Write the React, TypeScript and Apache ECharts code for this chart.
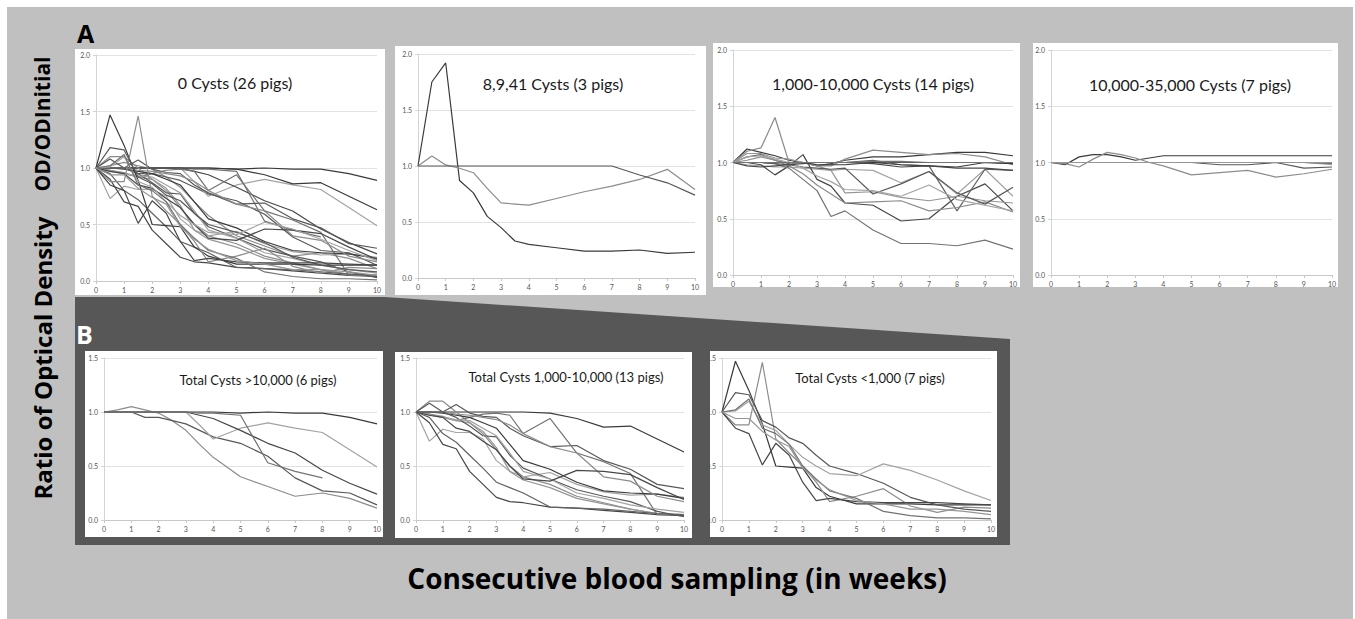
import React, { useEffect, useRef } from "react";
import * as echarts from "echarts";

// Sampling times (weeks)
const weeks = [0, 0.5, 1, 1.5, 2, 2.5, 3, 3.5, 4, 5, 6, 7, 8, 9, 10];
const xTicks = [0, 1, 2, 3, 4, 5, 6, 7, 8, 9, 10];

// B: Total cysts > 10,000 (6 pigs)
const b1Pigs: (number | null)[][] = [
  [1.0, 1.0, 1.0, 1.0, 1.0, 1.0, 1.0, 1.0, 1.0, 0.99, 1.0, 0.99, 0.99, 0.95, 0.89],
  [1.0, 1.02, 1.05, 1.02, 0.99, 0.92, 0.83, 0.7, 0.58, 0.4, 0.31, 0.22, 0.25, 0.2, 0.11],
  [1.0, 1.0, 1.0, 0.95, 0.95, 0.92, 0.89, 0.83, 0.77, 0.71, 0.59, 0.39, 0.27, 0.25, 0.14],
  [1.0, 1.0, 1.0, 1.0, 1.0, 1.0, 1.0, 0.88, 0.75, 0.85, 0.9, 0.85, 0.81, 0.65, 0.49],
  [1.0, 1.0, 1.0, 1.0, 1.0, 1.0, 1.0, 0.97, 0.94, 0.83, 0.71, 0.62, 0.46, 0.34, 0.24],
  [1.0, 1.0, 1.0, 1.0, 1.0, 1.0, 1.0, 0.99, 0.99, 0.97, 0.53, 0.45, 0.39, null, null],
];

// B: Total cysts 1,000-10,000 (13 pigs)
const b2Pigs: (number | null)[][] = [
  [1.0, 1.0, 1.0, 1.0, 1.0, 1.0, 1.0, 1.0, 1.0, 0.99, 0.94, 0.86, 0.87, 0.75, 0.63],
  [1.0, 1.1, 1.1, 1.0, 0.9, 0.8, 0.65, 0.5, 0.4, 0.33, 0.22, 0.16, 0.1, 0.06, 0.04],
  [1.0, 1.08, 1.0, 1.07, 0.99, 0.96, 0.95, 0.85, 0.78, 0.68, 0.69, 0.55, 0.47, 0.33, 0.29],
  [1.0, 0.73, 0.84, 0.81, 0.81, 0.75, 0.55, 0.45, 0.4, 0.44, 0.33, 0.26, 0.23, 0.24, 0.21],
  [1.0, 0.9, 0.7, 0.66, 0.45, 0.33, 0.21, 0.17, 0.16, 0.12, 0.11, 0.09, 0.07, 0.05, 0.04],
  [1.0, 0.98, 0.95, 0.92, 0.95, 0.98, 0.99, 0.97, 0.8, 0.94, 0.62, 0.54, 0.43, 0.05, 0.05],
  [1.0, 0.98, 0.96, 0.92, 0.9, 0.82, 0.67, 0.45, 0.37, 0.3, 0.2, 0.15, 0.1, 0.06, 0.05],
  [1.0, 0.95, 0.8, 0.72, 0.6, 0.48, 0.35, 0.3, 0.25, 0.12, 0.11, 0.1, 0.08, 0.06, 0.05],
  [1.0, 1.0, 0.99, 0.97, 0.95, 0.9, 0.85, 0.7, 0.55, 0.47, 0.35, 0.27, 0.25, 0.24, 0.2],
  [1.0, 1.0, 1.0, 0.98, 0.97, 0.95, 0.93, 0.88, 0.8, 0.68, 0.62, 0.4, 0.36, 0.22, 0.17],
  [1.0, 1.0, 1.0, 0.95, 0.87, 0.78, 0.77, 0.6, 0.48, 0.38, 0.28, 0.22, 0.17, 0.08, 0.03],
  [1.0, 0.97, 0.95, 0.93, 0.92, 0.85, 0.78, 0.62, 0.45, 0.38, 0.25, 0.2, 0.14, 0.1, 0.07],
  [1.0, 0.97, 0.95, 0.85, 0.82, 0.73, 0.65, 0.5, 0.38, 0.36, 0.46, 0.45, 0.42, 0.3, 0.19],
];

// B: Total cysts < 1,000 (7 pigs)
const b3Pigs: (number | null)[][] = [
  [1.0, 1.47, 1.2, 0.89, 0.5, 0.49, 0.48, 0.3, 0.22, 0.15, 0.15, 0.15, 0.14, 0.14, 0.14],
  [1.0, 0.88, 0.88, 1.46, 0.75, 0.62, 0.5, 0.35, 0.17, 0.22, 0.29, 0.13, 0.07, 0.12, 0.11],
  [1.0, 1.18, 1.16, 0.92, 0.86, 0.76, 0.71, 0.6, 0.5, 0.43, 0.34, 0.21, 0.14, 0.1, 0.08],
  [1.0, 1.01, 1.1, 0.88, 0.83, 0.7, 0.58, 0.5, 0.43, 0.41, 0.52, 0.46, 0.37, 0.27, 0.18],
  [1.0, 0.85, 0.8, 0.51, 0.71, 0.6, 0.35, 0.18, 0.2, 0.17, 0.16, 0.16, 0.16, 0.15, 0.14],
  [1.0, 1.02, 1.12, 0.85, 0.8, 0.7, 0.5, 0.38, 0.27, 0.2, 0.08, 0.04, 0.02, 0.02, 0.01],
  [1.0, 0.94, 0.94, 0.82, 0.74, 0.68, 0.48, 0.37, 0.28, 0.18, 0.15, 0.1, 0.1, 0.08, 0.05],
];

// A: 8,9,41 cysts (3 pigs)
const a2Pigs: (number | null)[][] = [
  [1.0, 1.75, 1.92, 0.87, 0.76, 0.55, 0.45, 0.33, 0.3, 0.27, 0.24, 0.24, 0.25, 0.22, 0.23],
  [1.0, 1.09, 1.01, 0.98, 0.94, 0.8, 0.67, 0.66, 0.65, 0.71, 0.77, 0.82, 0.88, 0.97, 0.79],
  [1.0, 1.0, 1.0, 1.0, 1.0, 1.0, 1.0, 1.0, 1.0, 1.0, 1.0, 1.0, 0.92, 0.85, 0.74],
];

// A: 1,000-10,000 cysts (14 pigs)
const a3Pigs: (number | null)[][] = [
  [1.0, 1.12, 1.09, 1.06, 1.02, 1.0, 0.97, 0.99, 1.02, 1.05, 1.05, 1.07, 1.09, 1.09, 1.06],
  [1.0, 1.1, 1.13, 1.4, 1.0, 1.0, 0.97, 0.97, 1.03, 1.11, 1.09, 1.07, 1.08, 1.05, 0.98],
  [1.0, 1.0, 1.0, 1.0, 1.0, 1.0, 1.0, 1.0, 1.0, 1.0, 1.0, 1.0, 1.0, 1.0, 0.99],
  [1.0, 0.98, 0.97, 0.96, 0.96, 0.95, 0.94, 0.93, 0.94, 0.93, 0.82, 0.92, 0.72, 0.94, 0.7],
  [1.0, 1.0, 0.98, 0.89, 0.97, 1.07, 0.85, 0.79, 0.64, 0.62, 0.48, 0.5, 0.7, 0.81, 0.57],
  [1.0, 1.0, 1.0, 0.99, 0.95, 0.85, 0.75, 0.52, 0.57, 0.4, 0.28, 0.28, 0.26, 0.31, 0.23],
  [1.0, 1.08, 1.08, 1.04, 1.03, 1.0, 0.97, 0.93, 0.73, 0.74, 0.69, 0.66, 0.7, 0.66, 0.64],
  [1.0, 1.05, 1.07, 1.02, 0.99, 1.0, 1.0, 1.0, 1.0, 1.02, 0.98, 0.97, 0.57, 0.94, 0.93],
  [1.0, 1.0, 1.0, 1.0, 1.0, 1.0, 0.98, 0.98, 0.98, 1.0, 0.98, 0.97, 0.96, 1.0, 0.99],
  [1.0, 1.02, 1.05, 1.02, 0.97, 0.9, 0.8, 0.72, 0.64, 0.65, 0.66, 0.57, 0.6, 0.65, 0.56],
  [1.0, 1.0, 1.0, 0.99, 0.98, 0.96, 0.95, 0.94, 0.95, 0.72, 0.81, 0.92, 0.73, 0.63, 0.78],
  [1.0, 1.05, 1.06, 1.03, 1.0, 0.95, 0.88, 0.83, 0.76, 0.75, 0.7, 0.8, 0.67, 0.62, 0.57],
  [1.0, 0.97, 0.96, 0.97, 0.98, 0.99, 1.0, 1.0, 1.0, 0.99, 0.96, 0.97, 0.95, 0.95, 0.93],
  [1.0, 1.0, 1.0, 1.0, 1.0, 1.0, 1.0, 1.0, 1.0, 1.01, 1.01, 1.0, 1.0, 1.0, 1.0],
];

// A: 10,000-35,000 cysts (7 pigs)
const a4Pigs: (number | null)[][] = [
  [1.0, 0.98, 1.05, 1.07, 1.07, 1.05, 1.02, 1.04, 1.06, 1.06, 1.06, 1.06, 1.06, 1.06, 1.06],
  [1.0, 0.99, 0.96, 1.03, 1.09, 1.07, 1.04, 1.0, 0.97, 0.89, 0.91, 0.93, 0.87, 0.9, 0.94],
  [1.0, 1.0, 1.0, 1.0, 1.0, 1.0, 1.0, 1.0, 1.0, 1.0, 0.98, 0.98, 1.0, 0.95, 0.96],
  [1.0, 1.0, 1.0, 1.0, 1.0, 1.0, 1.0, 1.0, 1.0, 1.0, 1.0, 1.0, 1.0, 1.0, 0.98],
  [1.0, 1.0, 1.0, 1.0, 1.0, 1.0, 1.0, 1.0, 1.0, 1.0, 1.0, 1.0, 1.0, 1.0, 1.0],
  [1.0, 1.0, 1.0, 1.0, 1.0, 1.0, 1.0, 1.0, 1.0, 1.0, 1.0, 1.0, 1.0, 1.0, 0.99],
  [1.0, 1.0, 1.0, 1.0, 1.0, 1.0, 1.0, 1.0, 1.0, 1.0, 1.0, 1.0, 1.0, 1.0, 1.0],
];

// A: 0 cysts (26 pigs) = the three B groups together
const a1Pigs = [...b1Pigs, ...b2Pigs, ...b3Pigs];

const panelTitles = [
  "0 Cysts (26 pigs)",
  "8,9,41 Cysts (3 pigs)",
  "1,000-10,000 Cysts (14 pigs)",
  "10,000-35,000 Cysts (7 pigs)",
  "Total Cysts >10,000 (6 pigs)",
  "Total Cysts 1,000-10,000 (13 pigs)",
  "Total Cysts <1,000 (7 pigs)",
];
const panelYMax = [2, 2, 2, 2, 1.5, 1.5, 1.5];
const panelData = [a1Pigs, a2Pigs, a3Pigs, a4Pigs, b1Pigs, b2Pigs, b3Pigs];

// layout (px)
const boxes = [
  [75, 49, 310, 246],
  [395, 46, 311, 249],
  [713, 43, 307, 244],
  [1033, 43, 305, 244],
  [85, 351, 298, 186],
  [395, 352, 297, 186],
  [710, 351, 287, 186],
];
const grids = [
  [96, 55, 281, 226],
  [418, 54, 277, 224],
  [733, 50, 280, 225],
  [1051, 50, 281, 225],
  [104, 358, 273, 162],
  [416, 358, 268, 162],
  [722, 358, 269, 162],
];
const titlePos = [
  [235, 82, 16],
  [553, 83, 16],
  [873, 83, 16],
  [1190, 84, 16],
  [258, 380, 13],
  [566, 377, 13],
  [870, 378, 13],
];

const grays = ["#3a3a3a", "#8c8c8c", "#585858", "#a3a3a3", "#474747", "#737373", "#969696", "#626262"];
const groupColors = (n: number) => Array.from({ length: n }, (_, k) => grays[k % grays.length]);
const panelColors = [
  [...groupColors(b1Pigs.length), ...groupColors(b2Pigs.length), ...groupColors(b3Pigs.length)],
  groupColors(a2Pigs.length),
  groupColors(a3Pigs.length),
  groupColors(a4Pigs.length),
  groupColors(b1Pigs.length),
  groupColors(b2Pigs.length),
  groupColors(b3Pigs.length),
];

export default function App() {
  const ref = useRef<HTMLDivElement>(null);
  useEffect(() => {
    if (!ref.current) return;
    const chart = echarts.init(ref.current, null, { renderer: "svg" });

    const grid: any[] = [];
    const xAxis: any[] = [];
    const yAxis: any[] = [];
    const series: any[] = [];
    const graphic: any[] = [];

    graphic.push({ type: "rect", z: -10, shape: { x: 7, y: 7, width: 1346, height: 612 }, style: { fill: "#c0c0c0" } });
    graphic.push({
      type: "polygon",
      z: -9,
      shape: { points: [[75, 297], [385, 297], [1010, 339], [1010, 545], [75, 545]] },
      style: { fill: "#575757" },
    });

    boxes.forEach((b, i) => {
      graphic.push({ type: "rect", z: -8, shape: { x: b[0], y: b[1], width: b[2], height: b[3] }, style: { fill: "#ffffff" } });
      const g = grids[i];
      grid.push({ left: g[0], top: g[1], width: g[2], height: g[3], containLabel: false });
      xAxis.push({
        type: "value",
        gridIndex: i,
        min: 0,
        max: 10,
        interval: 1,
        axisLine: { show: true, lineStyle: { color: "#c8c8c8", width: 1 } },
        axisTick: { show: true, length: 3, lineStyle: { color: "#c8c8c8" } },
        axisLabel: { fontSize: 7, color: "#555555", margin: 5, fontFamily: "Lato", formatter: (v: number) => (xTicks.includes(v) ? String(v) : "") },
        splitLine: { show: false },
      });
      yAxis.push({
        type: "value",
        gridIndex: i,
        min: 0,
        max: panelYMax[i],
        interval: 0.5,
        axisLine: { show: true, lineStyle: { color: "#d4d4d4", width: 1 } },
        axisTick: { show: true, length: 3, lineStyle: { color: "#d4d4d4" } },
        axisLabel: { fontSize: 7, color: "#555555", margin: 6, fontFamily: "Lato", formatter: (v: number) => v.toFixed(1) },
        splitLine: { show: true, lineStyle: { color: "#e2e2e2", width: 1 } },
      });
      panelData[i].forEach((pig, k) => {
        series.push({
          type: "line",
          xAxisIndex: i,
          yAxisIndex: i,
          showSymbol: false,
          symbol: "none",
          silent: true,
          lineStyle: { width: 1.2, color: panelColors[i][k] },
          data: weeks.map((w, j) => [w, pig[j]]).filter((d) => d[1] !== null),
        });
      });
      const t = titlePos[i];
      graphic.push({
        type: "text",
        x: t[0],
        y: t[1],
        z: 10,
        style: { text: panelTitles[i], fontFamily: "Lato", fontSize: t[2], fill: "#1a1a1a", align: "center", verticalAlign: "middle" },
      });
    });

    graphic.push({ type: "text", x: 77, y: 33, style: { text: "A", fontFamily: "Open Sans", fontWeight: "bold", fontSize: 25, fill: "#000", verticalAlign: "middle" } });
    graphic.push({ type: "text", x: 76, y: 334, style: { text: "B", fontFamily: "Open Sans", fontWeight: "bold", fontSize: 25, fill: "#fff", verticalAlign: "middle" } });
    graphic.push({
      type: "text",
      x: 42,
      y: 124,
      rotation: Math.PI / 2,
      style: { text: "OD/ODInitial", fontFamily: "Open Sans", fontWeight: "bold", fontSize: 21, fill: "#000", align: "center", verticalAlign: "middle" },
    });
    graphic.push({
      type: "text",
      x: 42,
      y: 358,
      rotation: Math.PI / 2,
      style: { text: "Ratio of Optical Density", fontFamily: "Open Sans", fontWeight: "bold", fontSize: 24, fill: "#000", align: "center", verticalAlign: "middle" },
    });
    graphic.push({
      type: "text",
      x: 677,
      y: 578,
      style: { text: "Consecutive blood sampling (in weeks)", fontFamily: "Open Sans", fontWeight: "bold", fontSize: 28, fill: "#000", align: "center", verticalAlign: "middle" },
    });

    chart.setOption({
      animation: false,
      backgroundColor: "#ffffff",
      grid,
      xAxis,
      yAxis,
      series,
      graphic,
    });
    return () => chart.dispose();
  }, []);
  return <div ref={ref} style={{ position: "absolute", left: 0, top: 0, width: 1355, height: 619 }} />;
}
